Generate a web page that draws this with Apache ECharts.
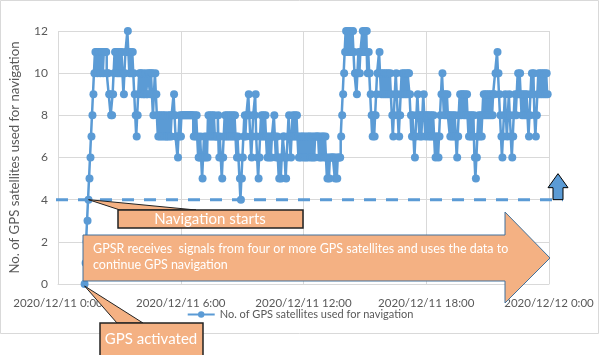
<!DOCTYPE html>
<html>
<head>
<meta charset="utf-8">
<script src="https://cdn.jsdelivr.net/npm/echarts@6/dist/echarts.min.js"></script>
<style>
html,body{margin:0;padding:0;background:#fff;}
#chart{width:600px;height:355px;}
</style>
</head>
<body>
<div id="chart"></div>
<script>
// ---- data ----
const seriesName = 'No. of GPS satellites used for navigation';
const startMinute = 78;        // first sample, 2020/12/11 1:18
const sampleSeconds = 173;     // sampling interval of the log
const xTickLabels = ['2020/12/11 0:00', '2020/12/11 6:00', '2020/12/11 12:00', '2020/12/11 18:00', '2020/12/12 0:00'];
const yTicks = [0, 2, 4, 6, 8, 10, 12];
const navThreshold = 4;

// 01:18 - ~06:50
const satsPart1 = [0,1,2,3,4,5,6,7,8,9,10,
  11,11,10,11,11,10,11,11,10,11,11,11,10,
  10,9,9,8,8,9,10,
  11,11,10,11,10,11,10,11,10,9,10,11,11,12,11,10,11,10,11,10,9,8,7,8,9,
  10,10,9,10,9,9,10,9,9,10,10,9,10,10,8,9,10,9,
  8,7,8,7,8,7,8,7,8,7,7,8,7,8,7,8,8,9,8,7,7,6,7,8,7,8,8,8,8,8,8,8,8,8,8,8,8,7,8,7,8,7,6];
// ~06:50 - ~12:40
const satsPart2 = [6,7,6,5,6,7,6,7,6,8,
  7,8,7,8,7,8,7,7,7,8,
  6,7,6,5,6,7,8,7,8,7,
  8,7,8,7,8,7,8,7,6,7,
  6,5,4,5,6,7,8,7,8,8,
  9,8,7,6,7,8,8,9,7,6,
  5,6,7,8,7,8,7,8,7,6,
  7,6,7,6,7,7,8,7,6,7,
  6,5,6,5,6,7,7,6,5,6,
  7,8,7,6,7,8,7,8,7,8,
  7,6,7,6,7,7,6,7,6,7,
  6,7,7,6,7,6,7,6,7,7,
  7,7];
// ~12:40 - ~18:30
const satsPart3 = [6,7,6,7,7,6,7,6,5,6,
  5,6,6,6,6,6,5,6,5,6,
  6,6,7,8,9,10,11,
  12,11,12,11,12,11,11,12,11,10,
  10,9,10,11,10,11,11,12,11,12,
  11,12,10,11,10,
  9,8,7,8,7,8,9,10,10,11,
  10,9,10,9,10,9,10,9,10,9,
  10,9,8,7,8,9,10,9,8,7,
  8,9,10,9,10,9,10,9,10,10,
  9,8,7,8,7,6,7,8,9,8,
  7,8,7,8,9,8,7,8,8,7,
  8,7,8,7,8,7,6,7];
// ~18:30 - 24:00
const satsPart4 = [7,6,7,8,9,10,9,8,9,8,
  9,8,8,7,8,7,8,7,8,7,
  6,7,8,9,8,9,9,8,9,8,
  9,8,7,8,7,8,7,8,6,5,
  6,7,8,7,8,7,8,
  9,8,9,8,9,8,9,8,9,8,
  9,9,10,10,11,10,9,8,7,6,
  7,8,9,8,7,8,9,8,7,6,
  7,8,9,8,9,10,9,10,9,8,
  9,8,9,8,9,8,7,8,9,10,
  9,10,8,7,8,9,10,9,10,9,
  10,9,10,9,10,9];

// ---- build ----
const sats = [].concat(satsPart1, satsPart2, satsPart3, satsPart4);
const seriesData = sats.map((v, i) => [startMinute + i * sampleSeconds / 60, v]);

const FONT = 'Lato';
const GREY = '#595959';
const BLUE = '#5B9BD5';
const ORANGE = '#F4B183';

const chart = echarts.init(document.getElementById('chart'), null, {renderer: 'canvas'});
chart.setOption({
  animation: false,
  backgroundColor: '#fff',
  textStyle: {fontFamily: FONT},
  grid: {left: 50, right: 51, top: 31, bottom: 71, containLabel: false},
  xAxis: {
    type: 'value', min: 0, max: 1440, interval: 360,
    axisLine: {show: true, lineStyle: {color: '#d9d9d9', width: 1}},
    axisTick: {show: false},
    splitLine: {show: true, lineStyle: {color: '#d9d9d9', width: 1}},
    axisLabel: {
      color: GREY, fontSize: 11.5, fontFamily: FONT, margin: 13,
      showMinLabel: true, showMaxLabel: true,
      formatter: v => xTickLabels[Math.round(v / 360)]
    }
  },
  yAxis: {
    type: 'value', min: yTicks[0], max: yTicks[yTicks.length - 1], interval: 2,
    name: seriesName, nameLocation: 'middle', nameRotate: 90, nameGap: 37,
    nameTextStyle: {color: GREY, fontSize: 13.2, fontFamily: FONT},
    axisLine: {show: false},
    axisTick: {show: false},
    splitLine: {show: true, lineStyle: {color: '#d9d9d9', width: 1}},
    axisLabel: {color: GREY, fontSize: 12, fontFamily: FONT, margin: 10}
  },
  legend: {
    show: true, bottom: 30, left: 'center',
    itemWidth: 27, itemHeight: 8, itemGap: 10,
    textStyle: {color: GREY, fontSize: 11, fontFamily: FONT},
    data: [seriesName]
  },
  series: [{
    name: seriesName, type: 'line', data: seriesData,
    step: 'middle',
    showSymbol: true, showAllSymbol: true,
    symbol: 'circle', symbolSize: 8,
    itemStyle: {color: BLUE},
    lineStyle: {color: BLUE, width: 2.5},
    emphasis: {disabled: true},
    z: 3
  }]
});

// ---- annotations anchored to data coordinates ----
const toPx = (x, y) => chart.convertToPixel({xAxisIndex: 0, yAxisIndex: 0}, [x, y]);
const pGps = toPx(seriesData[0][0], seriesData[0][1]);
const idxNav = sats.indexOf(navThreshold);
const pNav = toPx(seriesData[idxNav][0], navThreshold);
const yNav = chart.convertToPixel({yAxisIndex: 0}, navThreshold);
const xL = chart.convertToPixel({xAxisIndex: 0}, 0);
const xR = chart.convertToPixel({xAxisIndex: 0}, 1440);

const calloutFont = '15px ' + FONT;
const arrowFont = '12.5px ' + FONT;
chart.setOption({
  graphic: [
    // outer chart border
    {type: 'rect', z: 0, silent: true, shape: {x: 0.5, y: 0.5, width: 598, height: 333},
      style: {fill: null, stroke: '#d9d9d9', lineWidth: 1}},
    // navigation threshold dashed line
    {type: 'line', z: 50, silent: true,
      shape: {x1: xL - 2, y1: yNav, x2: xR + 14, y2: yNav},
      style: {stroke: BLUE, lineWidth: 3, lineDash: [12, 10]}},
    // up arrow
    {type: 'polygon', z: 60, silent: true,
      shape: {points: [[xR + 4, yNav], [xR + 4, yNav - 12], [xR - 1, yNav - 12], [xR + 9, yNav - 26], [xR + 19, yNav - 12], [xR + 14, yNav - 12], [xR + 14, yNav]]},
      style: {fill: BLUE, stroke: '#000', lineWidth: 1}},
    // big arrow
    {type: 'polygon', z: 60, silent: true,
      shape: {points: [[83, 235], [505, 235], [505, 212], [xR + 1, 258], [505, 303], [505, 281], [83, 281]]},
      style: {fill: ORANGE, stroke: '#41719C', lineWidth: 1}},
    {type: 'text', z: 61, silent: true,
      style: {text: 'GPSR receives  signals from four or more GPS satellites and uses the data to', x: 93, y: 249,
        fill: '#fff', font: arrowFont, align: 'left', verticalAlign: 'middle'}},
    {type: 'text', z: 61, silent: true,
      style: {text: 'continue GPS navigation', x: 93, y: 265,
        fill: '#fff', font: arrowFont, align: 'left', verticalAlign: 'middle'}},
    // "Navigation starts" callout
    {type: 'polygon', z: 62, silent: true,
      shape: {points: [[pNav[0], pNav[1]], [196, 210], [120, 210]]},
      style: {fill: ORANGE, stroke: '#222', lineWidth: 1}},
    {type: 'rect', z: 63, silent: true, shape: {x: 118, y: 210, width: 185, height: 18},
      style: {fill: ORANGE, stroke: '#222', lineWidth: 1.5}},
    {type: 'text', z: 64, silent: true,
      style: {text: 'Navigation starts', x: 210, y: 219.5, fill: '#fff', font: calloutFont, align: 'center', verticalAlign: 'middle'}},
    // "GPS activated" callout
    {type: 'polygon', z: 62, silent: true,
      shape: {points: [[pGps[0], pGps[1] + 2], [143, 323], [117, 323]]},
      style: {fill: ORANGE, stroke: '#222', lineWidth: 1}},
    {type: 'rect', z: 63, silent: true, shape: {x: 100, y: 323, width: 103, height: 40},
      style: {fill: ORANGE, stroke: '#222', lineWidth: 1.5}},
    {type: 'text', z: 64, silent: true,
      style: {text: 'GPS activated', x: 151, y: 339, fill: '#fff', font: calloutFont, align: 'center', verticalAlign: 'middle'}}
  ]
});
</script>
</body>
</html>
